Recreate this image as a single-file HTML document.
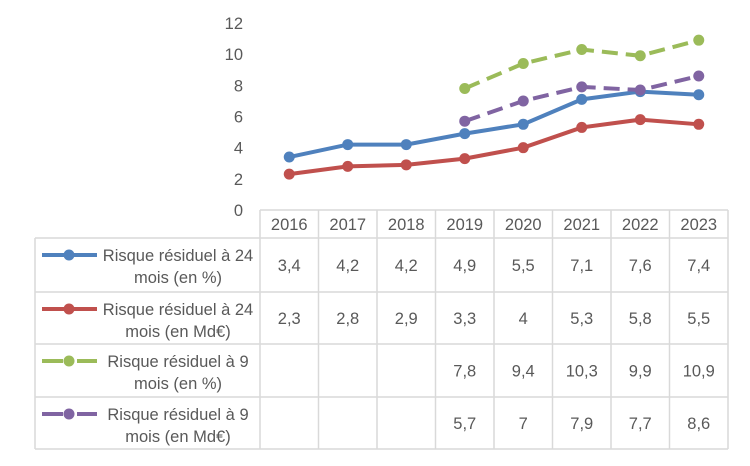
<!DOCTYPE html>
<html><head><meta charset="utf-8"><style>
body{margin:0;background:#fff;font-family:"Liberation Sans",sans-serif}
svg text{font-family:"Liberation Sans",sans-serif;fill:#595959}
</style></head><body>
<svg id="c" width="750" height="461"></svg>
<script>
const years=["2016","2017","2018","2019","2020","2021","2022","2023"];
const s1=[3.4,4.2,4.2,4.9,5.5,7.1,7.6,7.4];
const s2=[2.3,2.8,2.9,3.3,4,5.3,5.8,5.5];
const s3=[null,null,null,7.8,9.4,10.3,9.9,10.9];
const s4=[null,null,null,5.7,7,7.9,7.7,8.6];
const yTicks=[0,2,4,6,8,10,12];
const names=[["Risque résiduel à 24","mois (en %)"],["Risque résiduel à 24","mois (en Md€)"],["Risque résiduel à 9","mois (en %)"],["Risque résiduel à 9","mois (en Md€)"]];
const series=[s1,s2,s3,s4];
const colors=["#4f81bd","#c0504d","#9bbb59","#8064a2"];
const dashed=[false,false,true,true];
const NS="http://www.w3.org/2000/svg";
const svg=document.getElementById('c');
const X0=260,CW=58.5,Y0=210,YS=15.58,FS=16.5;
const x=i=>X0+CW*(i+0.5);
const y=v=>Y0-v*YS;
function mk(t,a,p){const e=document.createElementNS(NS,t);for(const k in a)e.setAttribute(k,a[k]);(p||svg).appendChild(e);return e;}
yTicks.forEach(v=>{const t=mk('text',{x:243,y:y(v)+6,'text-anchor':'end','font-size':FS});t.textContent=v;

});
const rows=[210,238,292,344,397,449];
const g=mk('g',{stroke:'#d9d9d9','stroke-width':1.5});


for(let i=0;i<=years.length;i++)mk('line',{x1:X0+CW*i,y1:210,x2:X0+CW*i,y2:449},g);
mk('line',{x1:35,y1:238,x2:35,y2:449},g);
mk('line',{x1:X0,y1:210,x2:X0+CW*8,y2:210},g);
for(let r=1;r<rows.length;r++)mk('line',{x1:35,y1:rows[r],x2:X0+CW*8,y2:rows[r]},g);
years.forEach((yr,i)=>{const t=mk('text',{x:x(i),y:230,'text-anchor':'middle','font-size':FS});t.textContent=yr;

});
series.forEach((s,k)=>{
 const top=rows[k+1],bot=rows[k+2],mid=(top+bot)/2;
 s.forEach((v,i)=>{if(v==null)return;const t=mk('text',{x:x(i),y:mid+6,'text-anchor':'middle','font-size':FS});t.textContent=String(v).replace('.',',');
 
 });
 const lg=mk('g',{});
 
 
 const ly=top+17;
 mk('line',{x1:42,y1:ly,x2:97,y2:ly,stroke:colors[k],'stroke-width':4,'stroke-dasharray':dashed[k]?'21,14,21':'none'},lg);
 mk('circle',{cx:69,cy:ly,r:5.5,fill:colors[k]},lg);
 const t1=mk('text',{x:178,y:top+23,'text-anchor':'middle','font-size':FS},lg);t1.textContent=names[k][0];
 const t2=mk('text',{x:178,y:top+45,'text-anchor':'middle','font-size':FS},lg);t2.textContent=names[k][1];
 const pts=s.map((v,i)=>v==null?null:[x(i),y(v)]).filter(p=>p);
 const sg=mk('g',{});
 
 
 mk('polyline',{points:pts.map(p=>p.join(',')).join(' '),fill:'none',stroke:colors[k],'stroke-width':4,'stroke-dasharray':dashed[k]?'16,8':'none'},sg);
 pts.forEach(p=>mk('circle',{cx:p[0],cy:p[1],r:5.5,fill:colors[k]},sg));
});
</script>
</body></html>
